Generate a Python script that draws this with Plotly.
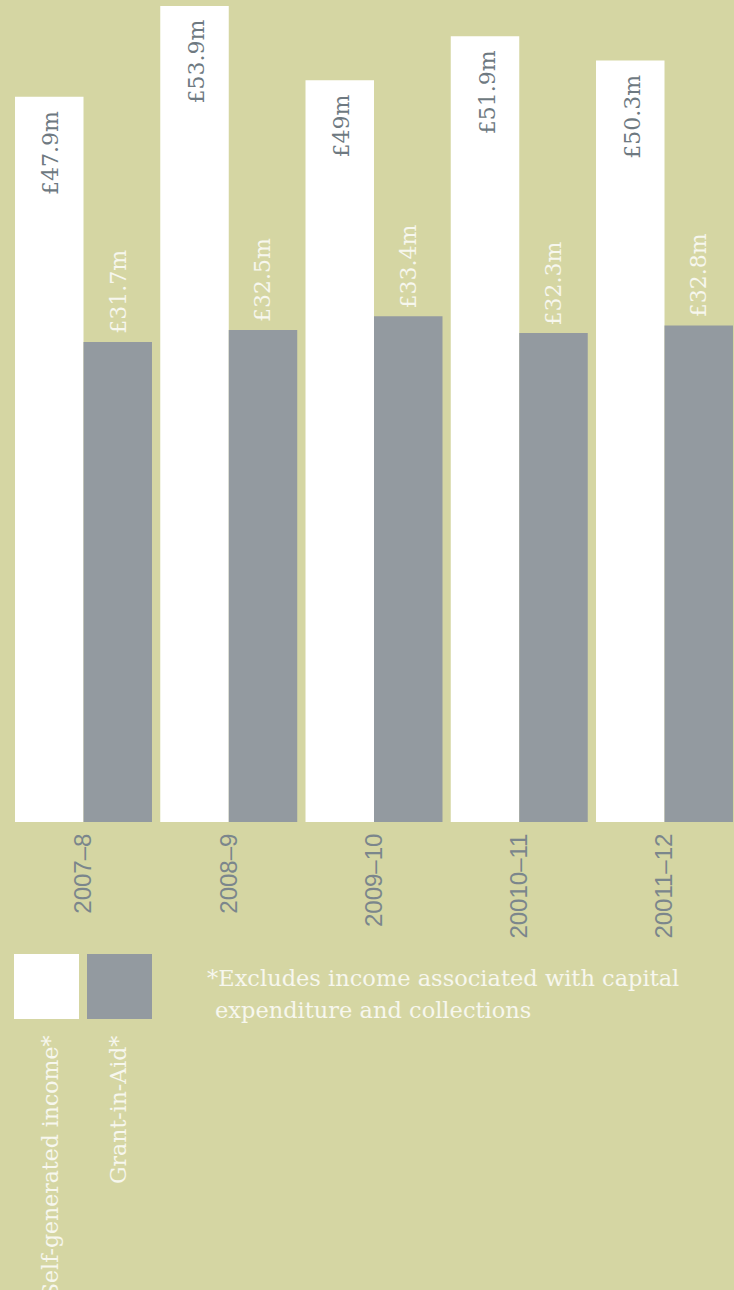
import plotly.graph_objects as go

# ---- data ----
years = ["2007–8", "2008–9", "2009–10", "20010–11", "20011–12"]
self_generated = [47.9, 53.9, 49.0, 51.9, 50.3]
grant_in_aid = [31.7, 32.5, 33.4, 32.3, 32.8]
self_labels = ["£47.9m", "£53.9m", "£49m", "£51.9m", "£50.3m"]
grant_labels = ["£31.7m", "£32.5m", "£33.4m", "£32.3m", "£32.8m"]
legend_names = ["Self-generated income*", "Grant-in-Aid*"]
footnote = ["*Excludes income associated with capital", "expenditure and collections"]

# ---- style ----
W, H = 734, 1290
PLOT_H = 822
BG = "#d5d6a3"
WHITE = "#ffffff"
GREY = "#939aa0"
LABEL_GREY = "#6e7981"
TICK_GREY = "#7b868c"
TEXT_WHITE = "#f7f7ee"
SERIF = "DejaVu Serif"
SANS = "Liberation Sans"
BARGAP = 0.057
half = (1 - BARGAP) / 4  # offset of each bar centre from group centre

idx = list(range(len(years)))

fig = go.Figure()
fig.add_trace(go.Bar(x=idx, y=self_generated, name=legend_names[0],
                     marker=dict(color=WHITE, line=dict(width=0)), hoverinfo="skip"))
fig.add_trace(go.Bar(x=idx, y=grant_in_aid, name=legend_names[1],
                     marker=dict(color=GREY, line=dict(width=0)), hoverinfo="skip"))

annotations = []
for i, (v, t) in enumerate(zip(self_generated, self_labels)):
    annotations.append(dict(x=i - half, y=v, xref="x", yref="y", text=t, textangle=-90,
                            showarrow=False, yanchor="top", xanchor="center", yshift=-12,
                            xshift=2, font=dict(family=SERIF, size=22, color=LABEL_GREY)))
for i, (v, t) in enumerate(zip(grant_in_aid, grant_labels)):
    annotations.append(dict(x=i + half, y=v, xref="x", yref="y", text=t, textangle=-90,
                            showarrow=False, yanchor="bottom", xanchor="center", yshift=6,
                            font=dict(family=SERIF, size=22, color=TEXT_WHITE)))


def py(p):
    """pixel row from top -> paper y"""
    return (PLOT_H - p) / PLOT_H


def px(p):
    return p / W


# legend swatches
shapes = [
    dict(type="rect", xref="paper", yref="paper", x0=px(14), x1=px(79), y0=py(1019), y1=py(954),
         fillcolor=WHITE, line=dict(width=0)),
    dict(type="rect", xref="paper", yref="paper", x0=px(87), x1=px(152), y0=py(1019), y1=py(954),
         fillcolor=GREY, line=dict(width=0)),
]
for name, cx in zip(legend_names, [50, 118]):
    annotations.append(dict(x=px(cx), y=py(1034), xref="paper", yref="paper", text=name,
                            textangle=-90, showarrow=False, xanchor="center", yanchor="top",
                            font=dict(family=SERIF, size=22, color=TEXT_WHITE)))
annotations.append(dict(x=px(205), y=py(963), xref="paper", yref="paper", text=footnote[0],
                        showarrow=False, xanchor="left", yanchor="top",
                        font=dict(family=SERIF, size=22.5, color=TEXT_WHITE)))
annotations.append(dict(x=px(213), y=py(995), xref="paper", yref="paper", text=footnote[1],
                        showarrow=False, xanchor="left", yanchor="top",
                        font=dict(family=SERIF, size=22.5, color=TEXT_WHITE)))

pitch = 145.25
x0 = -83.5 / pitch
fig.update_layout(
    width=W, height=H,
    margin=dict(l=0, r=0, t=0, b=H - PLOT_H, pad=0, autoexpand=False),
    paper_bgcolor=BG, plot_bgcolor=BG,
    barmode="group", bargap=BARGAP, bargroupgap=0,
    showlegend=False,
    xaxis=dict(range=[x0, x0 + W / pitch], tickmode="array", tickvals=idx, ticktext=years,
               tickangle=-90, tickfont=dict(family=SANS, size=24, color=TICK_GREY),
               showgrid=False, zeroline=False, showline=False, ticks="outside", ticklen=1,
               tickcolor=BG, fixedrange=True),
    yaxis=dict(range=[0, PLOT_H / 15.14], visible=False, showgrid=False, zeroline=False,
               fixedrange=True),
    annotations=annotations, shapes=shapes,
)

fig.write_html("out.html", config={"displayModeBar": False},
               post_script="document.body.style.margin='0';"
                           "document.body.style.overflow='hidden';")
